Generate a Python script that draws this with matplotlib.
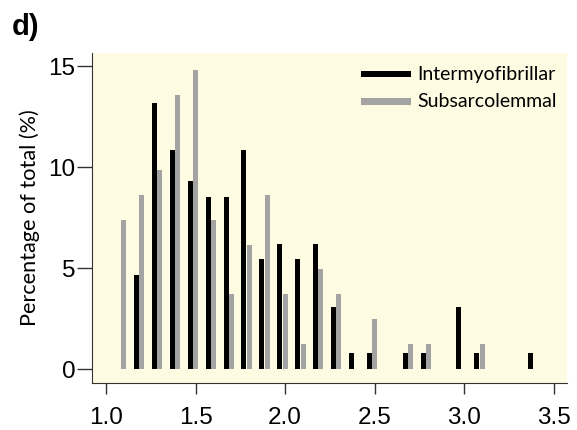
import numpy as np
import matplotlib
matplotlib.use('Agg')
import matplotlib.pyplot as plt

# bin centres (mitochondrial size classes)
bins = [1.1, 1.2, 1.3, 1.4, 1.5, 1.6, 1.7, 1.8, 1.9, 2.0, 2.1, 2.2,
        2.3, 2.4, 2.5, 2.6, 2.7, 2.8, 2.9, 3.0, 3.1, 3.2, 3.3, 3.4]
inter = [0, 4.65, 13.18, 10.85, 9.30, 8.53, 8.53, 10.85, 5.43, 6.20, 5.43, 6.20,
         3.10, 0.78, 0.78, 0, 0.78, 0.78, 0, 3.10, 0.78, 0, 0, 0.78]
subs = [7.41, 8.64, 9.88, 13.58, 14.81, 7.41, 3.70, 6.17, 8.64, 3.70, 1.23, 4.94,
        3.70, 0, 2.47, 0, 1.23, 1.23, 0, 0, 1.23, 0, 0, 0]
xticks = [1.0, 1.5, 2.0, 2.5, 3.0, 3.5]
yticks = [0, 5, 10, 15]

fig = plt.figure(figsize=(5.77, 4.30), dpi=100)
ax = fig.add_axes([0.1594, 0.1093, 0.8233, 0.7674])
ax.set_facecolor('#fdfbe2')

x = np.array(bins)
w = 0.028
ax.bar(x - 0.03, inter, width=w, color='black', label='Intermyofibrillar')
ax.bar(x, subs, width=w, color='#a3a3a3', label='Subsarcolemmal')

ax.set_xlim(0.922, 3.573)
ax.set_ylim(-0.69, 15.66)
ax.set_xticks(xticks)
ax.set_xticklabels([f'{t:.1f}' for t in xticks], family='Liberation Sans', fontsize=17.5)
ax.set_yticks(yticks)
ax.set_yticklabels([str(t) for t in yticks], family='Liberation Sans', fontsize=17.5)
ax.tick_params(axis='x', direction='out', length=8, width=1, color='#333333', pad=9)
ax.tick_params(axis='y', direction='out', length=11, width=1, color='#333333', pad=1)
for s in ['top', 'right']:
    ax.spines[s].set_visible(False)
for s in ['left', 'bottom']:
    ax.spines[s].set_color('#333333')

ax.set_ylabel('Percentage of total (%)', family='Lato', fontsize=15.6, labelpad=6)

leg = ax.legend(loc='upper right', frameon=False, prop={'family': 'Lato', 'size': 14},
                handlelength=2.6, handleheight=0.3, labelspacing=0.55, handletextpad=0.3,
                bbox_to_anchor=(1.015, 1.015))
for h in leg.legend_handles:
    h.set_height(4.5)

fig.text(0.02, 0.97, 'd)', fontsize=21, fontweight='bold', family='Liberation Sans',
         va='top', ha='left')

fig.savefig('out.png', dpi=100)
